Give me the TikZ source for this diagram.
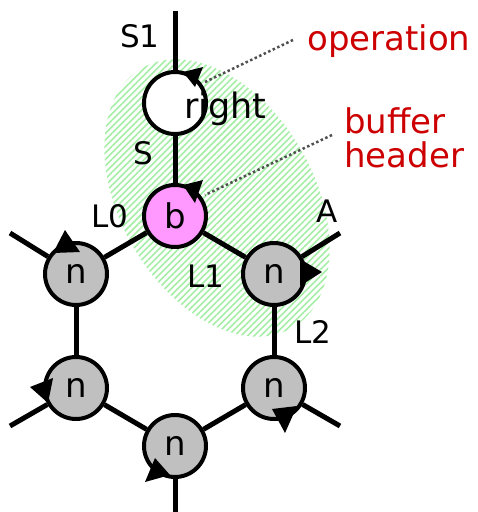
\documentclass[tikz,border=0pt]{standalone}
\usepackage{fontspec}
\setmainfont{DejaVu Sans}
\usetikzlibrary{patterns.meta}
\definecolor{hatchgreen}{RGB}{165,238,165}
\definecolor{bufpink}{RGB}{255,153,255}
\definecolor{nodegray}{RGB}{192,192,192}
\definecolor{notered}{RGB}{204,0,0}
\definecolor{pointergray}{RGB}{80,80,80}
\tikzset{
  ring/.style={circle, draw=black, line width=4pt, minimum size=62pt, inner sep=0pt,
    font=\fontsize{34}{38}\selectfont},
  plainring/.style={ring, fill=white},
  bufring/.style={ring, fill=bufpink},
  nring/.style={ring, fill=nodegray},
  link/.style={line width=5pt},
  lbl/.style={font=\fontsize{31}{36}\selectfont, inner sep=0pt},
  note/.style={font=\fontsize{34}{38}\selectfont, text=notered, inner sep=0pt, align=left},
  pointer/.style={draw=pointergray, line width=2.5pt, dash pattern=on 2.5pt off 2.5pt},
  tip/.style={fill=black},
  zone/.style={pattern={Lines[angle=45, distance=4.6pt, line width=1.6pt]}, pattern color=hatchgreen}
}
\begin{document}
\begin{tikzpicture}[x=1pt, y=-1pt]
\useasboundingbox (0,0) rectangle (478,512);

% hatched region around the operation and buffer header
\fill[zone, rotate around={-60:(217,198)}] (217,198) ellipse [x radius=150pt, y radius=97pt];

% circles
\node[plainring] (rt) at (175,103) {};
\node[bufring] (b) at (175,216) {b};
\node[nring] (n1) at (76,274) {n};
\node[nring] (n2) at (274,274) {n};
\node[nring] (n3) at (76,388) {n};
\node[nring] (n4) at (274,388) {n};
\node[nring] (n5) at (175,446) {n};

% free ends of the links
\coordinate (top) at (175,11);
\coordinate (bot) at (175,512);
\coordinate (e1) at (10,233);
\coordinate (e2) at (340,233);
\coordinate (e3) at (10,426);
\coordinate (e4) at (340,426);

% links
\draw[link] (top) -- (rt);
\draw[link] (rt) -- (b);
\draw[link] (b) -- (n1);
\draw[link] (b) -- (n2);
\draw[link] (n1) -- (n3);
\draw[link] (n2) -- (n4);
\draw[link] (n3) -- (n5);
\draw[link] (n4) -- (n5);
\draw[link] (n5) -- (bot);
\draw[link] (n1) -- (e1);
\draw[link] (n2) -- (e2);
\draw[link] (n3) -- (e3);
\draw[link] (n4) -- (e4);

% direction marks on the circles
\fill[tip, shift={(rt.center)}] (8,-31) -- (28,-36) -- (20,-16) -- cycle;
\fill[tip, shift={(b.center)}] (8,-31) -- (28,-36) -- (20,-13) -- cycle;
\fill[tip, shift={(n1.center)}] (-23,-21) -- (-11,-44) -- (4,-22) -- cycle;
\fill[tip, shift={(n2.center)}] (26,-15) -- (48,-2) -- (26,12) -- cycle;
\fill[tip, shift={(n3.center)}] (-46,-1) -- (-23,-10) -- (-28,15) -- cycle;
\fill[tip, shift={(n4.center)}] (-2,21) -- (23,18) -- (11,45) -- cycle;
\fill[tip, shift={(n5.center)}] (-20,12) -- (-5,29) -- (-30,36) -- cycle;

% labels
\node[lbl, font=\fontsize{35}{40}\selectfont, anchor=base west] (rtext) at (184,118) {right};
\node[lbl] (s1) at (140,36) {S1};
\node[lbl] (s) at (143,153) {S};
\node[lbl] (l0) at (110,216) {L0};
\node[lbl] (l1) at (206,276) {L1};
\node[lbl] (a) at (327,211) {A};
\node[lbl] (l2) at (313,332) {L2};

% notes with their pointers
\node[note, anchor=base west] (op) at (307,50) {operation};
\node[note, anchor=base west, align=left] (bh) at (344,167) {buffer\\[-4pt]header};
\coordinate (opend) at (205,82);
\coordinate (bhend) at (205,195);
\draw[pointer] (293,40) -- (opend);
\draw[pointer] (332,135) -- (bhend);
\end{tikzpicture}
\end{document}
